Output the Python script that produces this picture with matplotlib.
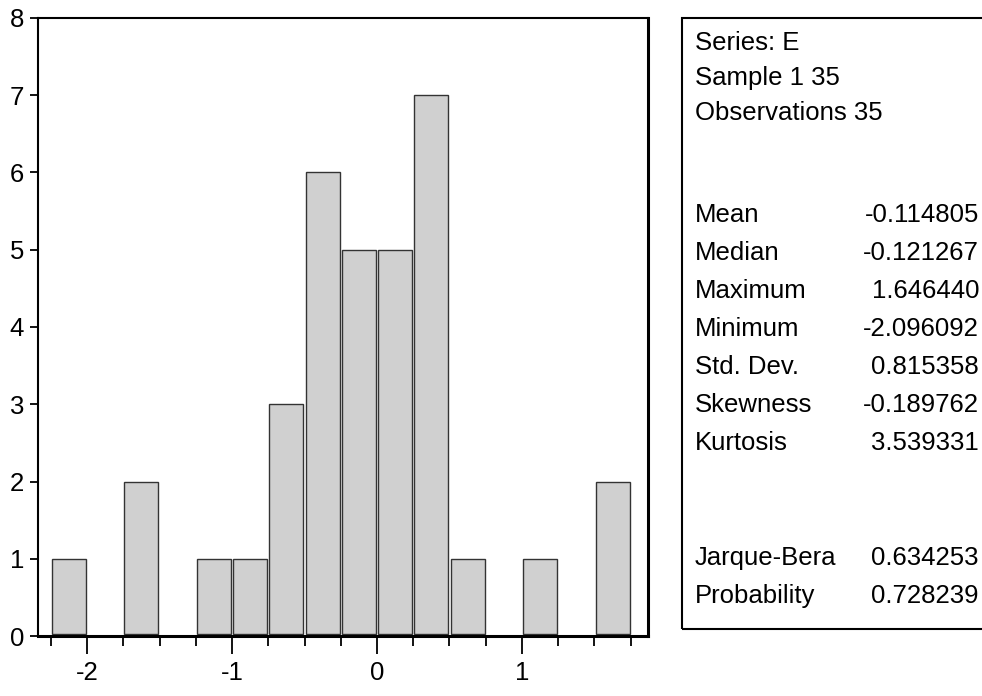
import matplotlib
matplotlib.use("Agg")
import matplotlib.pyplot as plt
from matplotlib.patches import Rectangle
import numpy as np

plt.rcParams['font.family'] = ['Liberation Sans', 'DejaVu Sans']
fs = 18.5

# histogram of residual series E (bin width 0.25)
bin_left = [-2.25, -2.0, -1.75, -1.5, -1.25, -1.0, -0.75, -0.5,
            -0.25, 0.0, 0.25, 0.5, 0.75, 1.0, 1.25, 1.5]
counts = [1, 0, 2, 0, 1, 1, 3, 6, 5, 5, 7, 1, 0, 1, 0, 2]
bin_width = 0.25

x_major = [-2, -1, 0, 1]
x_minor = np.arange(-2.25, 1.76, 0.25)
y_ticks = list(range(0, 9))

header_lines = ["Series: E", "Sample 1 35", "Observations 35"]
stat_names = ["Mean", "Median", "Maximum", "Minimum", "Std. Dev.", "Skewness", "Kurtosis"]
stat_values = ["-0.114805", "-0.121267", "1.646440", "-2.096092", "0.815358", "-0.189762", "3.539331"]
test_names = ["Jarque-Bera", "Probability"]
test_values = ["0.634253", "0.728239"]

W, H = 982, 696
fig = plt.figure(figsize=(W / 100, H / 100), dpi=100)
ax = fig.add_axes([38 / W, (H - 636) / H, (648 - 38) / W, (636 - 18) / H])

base = 0.03
centers = np.array(bin_left) + bin_width / 2
for c, n in zip(centers, counts):
    if n > 0:
        ax.bar(c, n - base, bottom=base, width=0.235, color='#d0d0d0',
               edgecolor='#333333', linewidth=1.0)

ax.set_xlim(-2.338, 1.869)
ax.set_ylim(0, 8)
ax.set_xticks(x_major)
ax.set_xticklabels([str(v) for v in x_major])
ax.set_xticks(x_minor, minor=True)
ax.set_yticks(y_ticks)
ax.tick_params(axis='x', which='major', direction='out', length=13, width=1.3,
               labelsize=fs, pad=5)
ax.tick_params(axis='x', which='minor', direction='out', length=7.5, width=1.3)
ax.tick_params(axis='y', which='major', direction='out', length=6, width=1.3,
               labelsize=fs, pad=4)
for side in ['left', 'top']:
    ax.spines[side].set_linewidth(1.5)
for side in ['right', 'bottom']:
    ax.spines[side].set_linewidth(2.2)

# statistics box on the right
fig.patches.append(Rectangle((682 / W, (H - 629) / H), 320 / W, (629 - 18) / H,
                             transform=fig.transFigure, fill=False,
                             edgecolor='black', linewidth=1.5))

x_lab = 695 / W
x_val = 979 / W
header_y = [43, 78, 113]
stat_y = [215, 253, 291, 329, 367, 405, 443]
test_y = [558, 596]
for t, y in zip(header_lines, header_y):
    fig.text(x_lab, (H - y) / H, t, fontsize=fs, va='center', ha='left')
for t, v, y in zip(stat_names, stat_values, stat_y):
    fig.text(x_lab, (H - y) / H, t, fontsize=fs, va='center', ha='left')
    fig.text(x_val, (H - y) / H, v, fontsize=fs, va='center', ha='right')
for t, v, y in zip(test_names, test_values, test_y):
    fig.text(x_lab, (H - y) / H, t, fontsize=fs, va='center', ha='left')
    fig.text(x_val, (H - y) / H, v, fontsize=fs, va='center', ha='right')

fig.savefig("out.png", dpi=100)
